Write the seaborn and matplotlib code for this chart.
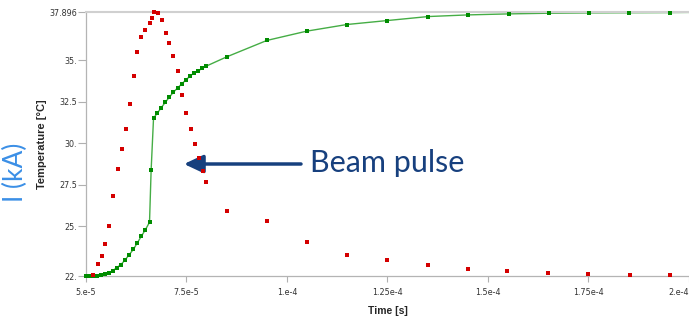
import numpy as np
import pandas as pd
import matplotlib
matplotlib.use("Agg")
import matplotlib.pyplot as plt
import seaborn as sns
from matplotlib.ticker import FixedLocator, FixedFormatter

# red points: beam current pulse (plotted on the temperature scale)
pulse_t_us = [51.7, 52.9, 53.9, 54.8, 55.8, 56.8, 57.9, 58.9, 59.9, 60.9,
              61.9, 62.8, 63.8, 64.8, 65.8, 66.4, 66.8, 67.8, 68.9, 69.9,
              70.7, 71.7, 72.8, 74.0, 75.0, 76.0, 77.1, 78.1, 79.2, 79.9,
              85.1, 95.1, 104.9, 114.9, 125.0, 135.0, 145.0, 154.8, 164.9,
              175.0, 185.3, 195.3]
pulse_val = [22.09, 22.70, 23.22, 23.91, 25.04, 26.80, 28.42, 29.67, 30.89, 32.36,
             34.03, 35.51, 36.38, 36.82, 37.28, 37.58, 37.896, 37.86, 37.46, 36.66,
             36.02, 35.27, 34.37, 32.89, 31.85, 30.87, 29.96, 29.13, 28.31, 27.68,
             25.90, 25.33, 24.07, 23.27, 22.98, 22.64, 22.40, 22.30, 22.18,
             22.12, 22.06, 22.06]

# green points: temperature
temp_t_us = [50.0, 50.7, 51.3, 52.0, 52.8, 53.7, 54.7, 55.6, 56.6, 57.6,
             58.7, 59.7, 60.7, 61.8, 62.8, 63.8, 64.8, 65.8, 66.2, 66.8,
             67.7, 68.7, 69.7, 70.7, 71.7, 72.8, 73.8, 74.8, 75.8, 76.9,
             77.9, 78.9, 79.9, 85.0, 95.0, 104.9, 114.9, 125.0, 135.1, 145.1,
             155.1, 165.1, 175.1, 185.1, 195.2]
temp_val = [22.00, 22.00, 22.00, 22.00, 22.01, 22.06, 22.10, 22.19, 22.31, 22.49,
            22.69, 22.96, 23.27, 23.61, 24.01, 24.41, 24.80, 25.24, 28.37, 31.52,
            31.80, 32.14, 32.46, 32.77, 33.07, 33.34, 33.57, 33.81, 34.03, 34.25,
            34.37, 34.51, 34.65, 35.21, 36.20, 36.76, 37.16, 37.40, 37.64, 37.74,
            37.80, 37.84, 37.86, 37.87, 37.88]
# end of the temperature line at the right border
temp_end_t_us = 200.0
temp_end_val = 37.89

x_ticks = [5e-5, 7.5e-5, 1e-4, 1.25e-4, 1.5e-4, 1.75e-4, 2e-4]
x_labels = ["5.e-5", "7.5e-5", "1.e-4", "1.25e-4", "1.5e-4", "1.75e-4", "2.e-4"]
y_ticks = [22, 25, 27.5, 30, 32.5, 35, 37.896]
y_labels = ["22.", "25.", "27.5", "30.", "32.5", "35.", "37.896"]

pulse = pd.DataFrame({"t": np.array(pulse_t_us) * 1e-6, "v": pulse_val})
temp = pd.DataFrame({"t": np.array(temp_t_us) * 1e-6, "v": temp_val})
temp_line = pd.concat([temp, pd.DataFrame({"t": [temp_end_t_us * 1e-6], "v": [temp_end_val]})],
                      ignore_index=True)

sns.set_style("white")
plt.rcParams["font.family"] = ["DejaVu Sans"]

fig = plt.figure(figsize=(6.89, 3.24), dpi=100)
ax = fig.add_axes([86 / 689, 1 - 276 / 324, 603 / 689, (276 - 12.3) / 324])

sns.lineplot(data=temp_line, x="t", y="v", ax=ax, color="#45ad45", linewidth=1.0,
             zorder=2, clip_on=False)
sns.scatterplot(data=temp, x="t", y="v", ax=ax, color="#008c00", marker="s", s=5.5,
                linewidth=0, zorder=3, clip_on=False)
sns.scatterplot(data=pulse, x="t", y="v", ax=ax, color="#d40000", marker="s", s=5.5,
                linewidth=0, zorder=4, clip_on=False)

ax.set_xlim(5e-5, 2e-4)
ax.set_ylim(22, 37.896)

ax.xaxis.set_major_locator(FixedLocator(x_ticks))
ax.xaxis.set_major_formatter(FixedFormatter(x_labels))
ax.yaxis.set_major_locator(FixedLocator(y_ticks))
ax.yaxis.set_major_formatter(FixedFormatter(y_labels))

ax.tick_params(axis="x", direction="out", length=4.3, width=0.8, color="#b0b0b0",
               labelsize=5.8, labelcolor="#333333", pad=4, bottom=True)
ax.tick_params(axis="y", direction="out", length=5.8, width=0.8, color="#b0b0b0",
               labelsize=5.8, labelcolor="#333333", pad=0.8, left=True)

# last x label sits against the right border
fig.canvas.draw()
ax.get_xticklabels()[-1].set_horizontalalignment("right")

for side in ["left", "bottom"]:
    ax.spines[side].set_color("#b4b4b4")
    ax.spines[side].set_linewidth(0.9)
ax.spines["top"].set_color("#d0d0d0")
ax.spines["top"].set_linewidth(1.5)
ax.spines["right"].set_visible(False)

ax.set_xlabel("Time [s]", fontsize=7.5, fontweight="bold", labelpad=7,
              family="Liberation Sans")
ax.set_ylabel("Temperature [°C]", fontsize=8, fontweight="bold", labelpad=1.5,
              family="Liberation Sans")

fig.text(15 / 689, 1 - 172 / 324, "I (kA)", rotation=90, ha="center", va="center",
         fontsize=19, color="#3b8fe6", family="Lato")

ax.annotate("", xy=(184, 324 - 164), xycoords="figure pixels",
            xytext=(301, 324 - 164), textcoords="figure pixels",
            arrowprops=dict(arrowstyle="-|>,head_length=1.15,head_width=0.54",
                            mutation_scale=10, lw=2.5, color="#17407e",
                            shrinkA=0, shrinkB=0))
fig.text(310 / 689, 1 - 163 / 324, "Beam pulse", ha="left", va="center",
         fontsize=22, color="#17407e", family="Lato")

fig.savefig("out.png", dpi=100)
